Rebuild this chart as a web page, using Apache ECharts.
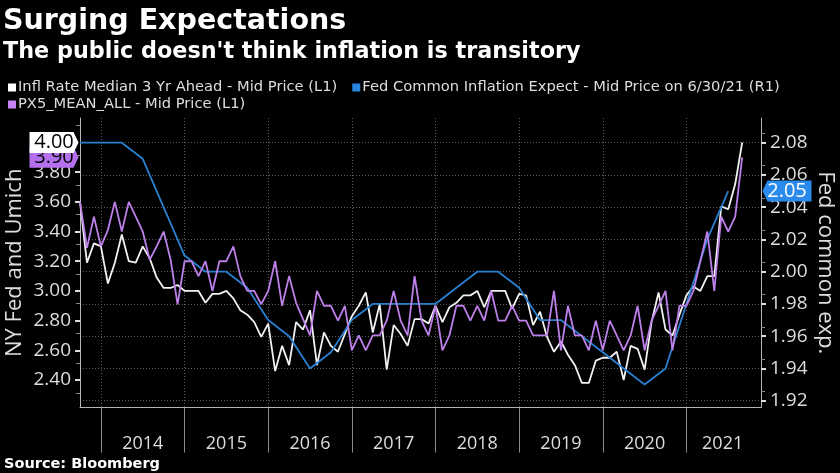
<!DOCTYPE html>
<html><head><meta charset="utf-8">
<style>html,body{margin:0;padding:0;background:#000}#c{width:840px;height:473px}</style>
<script src="https://cdn.jsdelivr.net/npm/echarts@6/dist/echarts.min.js"></script>
</head><body><div id="c"></div>
<script>
// Months since Jan 2014 of the first observation
const firstMonth = -3;
const inflMedian = [3.60,3.19,3.32,3.30,3.05,3.19,3.38,3.20,3.19,3.30,3.22,3.09,3.02,3.02,3.04,3.00,3.00,3.00,2.92,2.98,2.98,3.00,2.95,2.87,2.84,2.79,2.69,2.78,2.46,2.63,2.50,2.79,2.74,2.87,2.50,2.72,2.63,2.59,2.71,2.83,2.90,2.99,2.72,2.91,2.47,2.77,2.71,2.63,2.81,2.81,2.78,2.90,2.79,2.89,2.92,2.97,2.97,3.00,2.89,3.00,3.00,3.00,2.88,2.98,2.97,2.77,2.86,2.69,2.59,2.66,2.57,2.50,2.38,2.38,2.53,2.55,2.55,2.59,2.40,2.63,2.61,2.47,2.79,2.99,2.74,2.70,2.84,2.97,3.03,3.00,3.10,3.10,3.57,3.55,3.72,4.00];
const px5Mean = [3.60,3.29,3.50,3.30,3.41,3.60,3.40,3.60,3.50,3.40,3.21,3.30,3.40,3.21,2.91,3.20,3.20,3.10,3.20,3.00,3.20,3.20,3.30,3.10,3.00,3.00,2.91,3.00,3.20,2.90,3.10,2.92,2.81,2.70,3.00,2.90,2.90,2.80,2.90,2.60,2.70,2.60,2.70,2.70,2.80,3.00,2.80,2.70,3.10,2.80,2.70,2.90,2.60,2.70,2.90,2.90,2.80,2.90,2.80,3.00,2.80,2.80,2.90,2.80,2.80,2.70,2.70,2.70,3.00,2.60,2.90,2.70,2.70,2.60,2.80,2.60,2.80,2.70,2.60,2.70,2.90,2.60,2.80,2.90,3.00,2.60,2.90,2.90,3.00,3.20,3.40,3.00,3.50,3.40,3.50,3.90];
const fedObsIndex = [0,3,6,9,15,18,21,24,27,30,33,36,39,42,45,48,51,54,57,60,63,66,69,72,75,78,81,84,87,90,93];
const fedCommon = [2.08,2.08,2.08,2.07,2.01,2.00,2.00,1.99,1.97,1.96,1.94,1.95,1.97,1.98,1.98,1.98,1.98,1.99,2.00,2.00,1.99,1.97,1.97,1.96,1.95,1.94,1.93,1.94,1.98,2.02,2.05];
const yearTicks = [0,12,24,36,48,60,72,84];
const yearLabelPos = [6,18,30,42,54,66,78,89.2];
const leftTicks = [2.4,2.6,2.8,3.0,3.2,3.4,3.6,3.8];
const rightTicks = [1.92,1.94,1.96,1.98,2.00,2.02,2.04,2.06,2.08];
const names = ['Infl Rate Median 3 Yr Ahead - Mid Price (L1)','Fed Common Inflation Expect - Mid Price on 6/30/21 (R1)','PX5_MEAN_ALL - Mid Price (L1)'];

const toPairs = a => a.map((v,i)=>[firstMonth+i,v]);
const fedPairs = fedObsIndex.map((ix,k)=>[firstMonth+ix,fedCommon[k]]);
const LAST_X = 94.7;
const axisFont = 'Open Sans';
const tag = (x,y,side,bg,fg,text,z)=>({
  z, silent:true, animation:false,
  data:[{coord:[x,y],
    symbol: side==='l' ? 'path://M0,0L44,0L49,10L44,20L0,20Z' : 'path://M0,10L5,0L49,0L49,20L5,20Z',
    symbolSize:[49,21], symbolOffset:[side==='l'?-26:26,0],
    itemStyle:{color:bg},
    label:{show:true,position:'inside',formatter:text,color:fg,fontSize:20,fontFamily:axisFont}}]
});
const legendBase = {padding:0,itemWidth:8,itemHeight:8,itemGap:15,icon:'rect',
  textStyle:{color:'#ddd',fontFamily:'DejaVu Sans',fontSize:14.7,padding:[0,0,0,-3]}};
const minor = {show:true,splitNumber:2,length:4,lineStyle:{color:'#888',width:1}};
const chart = echarts.init(document.getElementById('c'),null,{renderer:'canvas'});
chart.setOption({
  animation:false, backgroundColor:'#000',
  title:[
    {text:'Surging Expectations',left:3,top:7,padding:0,textStyle:{color:'#fff',fontFamily:'DejaVu Sans',fontWeight:'bold',fontSize:28.5}},
    {text:"The public doesn't think inflation is transitory",left:3,top:41,padding:0,textStyle:{color:'#fff',fontFamily:'DejaVu Sans',fontWeight:'bold',fontSize:22.3}},
    {text:'Source: Bloomberg',left:4,top:457,padding:0,textStyle:{color:'#fff',fontFamily:'DejaVu Sans',fontWeight:'bold',fontSize:14.5}}
  ],
  legend:[
    Object.assign({},legendBase,{left:8,top:80,data:[names[0],names[1]]}),
    Object.assign({},legendBase,{left:8,top:97,data:[names[2]]})
  ],
  grid:{left:80,right:79,top:118,bottom:65.4,containLabel:false,outerBoundsMode:'none'},
  xAxis:{type:'value',min:firstMonth,max:LAST_X,interval:12,
    axisLine:{show:true,onZero:false,lineStyle:{color:'#b5b5b5',width:1}},
    axisTick:{show:true,length:45,customValues:yearTicks,lineStyle:{color:'#8a8a8a',width:1}},
    axisLabel:{show:true,customValues:yearLabelPos,margin:27,color:'#ddd',fontSize:18,fontFamily:axisFont,
      formatter:v=>String(2014+Math.floor(v/12))},
    splitLine:{show:true,lineStyle:{color:'#5a5a5a',type:[1,2],width:1}}
  },
  yAxis:[
    {type:'value',min:2.214,max:4.165,position:'left',interval:0.2,
      name:'NY Fed and Umich',nameLocation:'middle',nameGap:54.5,nameRotate:90,nameMoveOverlap:false,
      nameTextStyle:{color:'#ddd',fontSize:22,fontFamily:axisFont},
      axisLine:{show:true,onZero:false,lineStyle:{color:'#b5b5b5'}},
      axisTick:{show:true,length:5,customValues:leftTicks,lineStyle:{color:'#ddd',width:2}},
      minorTick:minor,
      axisLabel:{show:true,customValues:leftTicks,margin:9,color:'#ddd',fontSize:19,fontFamily:axisFont,formatter:v=>v.toFixed(2)},
      splitLine:{show:false}},
    {type:'value',min:1.9157,max:2.0953,position:'right',interval:0.02,
      name:'Fed common exp.',nameLocation:'middle',nameGap:53,nameRotate:-90,nameMoveOverlap:false,
      nameTextStyle:{color:'#ddd',fontSize:22,fontFamily:axisFont},
      axisLine:{show:true,onZero:false,lineStyle:{color:'#b5b5b5'}},
      axisTick:{show:true,length:5,customValues:rightTicks,lineStyle:{color:'#ddd',width:2}},
      minorTick:minor,
      axisLabel:{show:true,customValues:rightTicks,margin:9,color:'#ddd',fontSize:19,fontFamily:axisFont,formatter:v=>v.toFixed(2)},
      splitLine:{show:true,lineStyle:{color:'#5a5a5a',type:[1,2],width:1}}}
  ],
  series:[
    {name:names[0],type:'line',yAxisIndex:0,data:toPairs(inflMedian),showSymbol:false,symbol:'none',
      itemStyle:{color:'#ffffff'},lineStyle:{color:'#f2f2f2',width:1.8},clip:false,
      markPoint:tag(firstMonth,4.00,'l','#ffffff','#000','4.00',8)},
    {name:names[1],type:'line',yAxisIndex:1,data:fedPairs,showSymbol:false,symbol:'none',
      itemStyle:{color:'#2a85e0'},lineStyle:{color:'#2a7fd0',width:1.8},clip:false,
      markPoint:tag(LAST_X,2.05,'r','#2a8bec','#fff','2.05',7)},
    {name:names[2],type:'line',yAxisIndex:0,data:toPairs(px5Mean),showSymbol:false,symbol:'none',
      itemStyle:{color:'#c583f5'},lineStyle:{color:'#bd7fe8',width:1.8},clip:false,
      markPoint:tag(firstMonth,3.90,'l','#b570ee','#000','3.90',6)}
  ]
});
</script></body></html>
